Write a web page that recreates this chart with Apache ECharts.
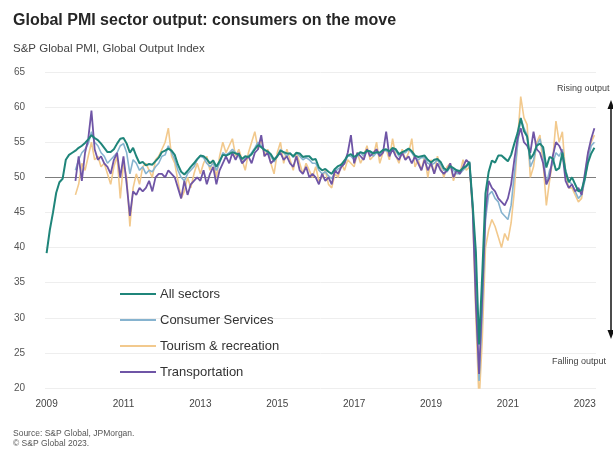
<!DOCTYPE html>
<html>
<head>
<meta charset="utf-8">
<script src="https://cdn.jsdelivr.net/npm/echarts@6/dist/echarts.min.js"></script>
<style>
html,body{margin:0;padding:0;background:#fff;}
#chart{width:613px;height:450px;}
</style>
</head>
<body>
<div id="chart"></div>
<script>
// Months Jan 2009 .. Apr 2023
const startYear = 2009, endYear = 2023, endMonth = 4;
const categories = [];
for (let y = startYear; y <= endYear; y++) {
  for (let m = 1; m <= 12; m++) {
    if (y === endYear && m > endMonth) break;
    categories.push(y + '-' + (m < 10 ? '0' + m : m));
  }
}
const xTickYears = ['2009','2011','2013','2015','2017','2019','2021','2023'];
const yTicks = { min: 20, max: 65, interval: 5 };

const allSectors = [
  39.2, 42.5, 45.0, 47.8, 49.3, 49.8, 52.5, 53.2, 53.5, 53.8, 54.2, 54.5,
  54.9, 55.4, 56.0, 55.6, 55.3, 54.8, 54.2, 53.6, 53.6, 54.0, 54.8, 55.5,
  55.6, 54.8, 53.5, 54.2, 53.0, 52.0, 52.2, 51.7, 51.9, 51.8, 52.3, 52.8,
  53.6, 53.8, 54.1, 53.8, 53.2, 51.8, 50.8, 50.4, 50.9, 51.5, 52.0, 52.6,
  53.1, 53.0, 52.6, 52.0, 52.4, 51.5, 52.3, 53.2, 53.1, 53.3, 53.6, 53.4,
  53.3, 52.6, 53.0, 52.9, 53.3, 54.0, 54.6, 54.3, 53.9, 53.7, 53.3, 52.5,
  53.0, 53.8, 53.6, 53.4, 53.4, 53.0, 53.5, 53.4, 52.9, 53.0, 53.0, 52.5,
  52.6, 51.4, 51.0, 51.2, 50.8, 50.5, 51.2, 51.6, 51.8, 52.4, 53.1, 53.3,
  52.9, 53.2, 53.6, 53.4, 53.8, 53.7, 53.4, 53.6, 53.5, 53.9, 54.0, 53.7,
  54.2, 54.0, 53.3, 53.6, 53.8, 54.1, 53.7, 53.1, 52.9, 53.0, 53.1, 52.5,
  52.1, 52.5, 52.6, 52.2, 51.3, 51.0, 51.6, 51.3, 51.0, 50.9, 51.3, 51.6,
  52.2, 46.1, 39.4, 26.2, 36.3, 47.7, 50.8, 52.4, 52.1, 53.1, 53.1, 52.7,
  52.3, 53.2, 54.8, 56.3, 58.4, 56.6, 55.8, 52.6, 53.3, 54.5, 54.8, 54.3,
  51.4, 52.9, 52.7, 51.0, 51.3, 53.5, 50.8, 49.3, 50.0, 49.0, 48.0, 48.2,
  49.8, 52.1, 53.4, 54.2
];

const consumerServices = [
  null, null, null, null, null, null, null, null, null, 51.0, 52.5, 53.5,
  54.0, 54.8, 56.5, 55.0, 54.5, 53.5, 53.0, 52.0, 52.5, 53.0, 53.5, 54.5,
  54.8, 53.5, 50.5, 52.5, 52.0, 51.0, 51.5, 50.5, 51.0, 50.8, 51.5, 52.0,
  53.0, 53.2, 54.5, 53.5, 52.5, 51.0, 50.0, 49.5, 50.5, 51.0, 51.5, 52.5,
  53.0, 52.8, 52.0, 51.5, 52.0, 51.0, 52.0, 53.5, 53.2, 53.5, 54.0, 53.5,
  53.0, 52.0, 52.8, 53.0, 53.5, 54.2, 55.0, 54.5, 54.0, 53.5, 53.0, 52.2,
  53.0, 54.0, 53.5, 53.0, 53.5, 52.8, 53.5, 53.0, 52.5, 52.8, 52.5, 52.0,
  52.0, 51.0, 50.5, 50.8, 50.2, 49.8, 50.8, 51.2, 51.5, 52.0, 53.0, 53.0,
  52.5, 53.0, 53.5, 53.0, 53.8, 53.5, 53.0, 53.5, 53.2, 53.8, 53.8, 53.5,
  54.0, 53.8, 53.0, 53.5, 53.5, 54.0, 53.5, 52.8, 52.5, 52.8, 52.8, 52.0,
  51.8, 52.0, 52.5, 51.8, 51.0, 50.8, 51.5, 51.0, 50.5, 50.5, 51.0, 51.5,
  52.0, 46.0, 34.0, 21.0, 31.0, 44.0, 47.5, 48.0, 47.0, 46.5, 45.0, 44.5,
  44.0, 46.0, 50.5, 54.5, 58.5, 57.0, 56.0, 51.5, 52.5, 54.5, 55.5, 53.5,
  49.0, 51.0, 52.0, 53.5, 53.0, 54.0, 51.0, 49.5, 49.0, 48.0, 47.0, 47.5,
  49.5, 52.5, 54.5, 55.0
];

const tourismRecreation = [
  null, null, null, null, null, null, null, null, null, 47.5, 49.0, 52.0,
  51.0, 53.0, 55.0, 52.5, 53.0, 51.5, 52.0, 50.5, 49.0, 51.5, 53.0, 47.0,
  52.0, 50.0, 43.0, 48.5, 50.5, 49.0, 51.5, 52.0, 51.0, 50.0, 52.5, 53.0,
  54.0, 55.0, 57.0, 53.0, 52.0, 49.5, 47.0, 48.0, 50.0, 48.5, 50.5, 52.0,
  50.5, 52.0, 53.0, 51.0, 52.5, 50.0, 53.0, 55.0, 53.5, 54.5, 55.5, 53.0,
  54.0, 52.5, 51.0, 53.5, 55.0, 56.5, 54.0, 55.5, 53.0, 54.0, 52.0, 50.5,
  53.5, 55.0, 52.0, 54.0, 52.5, 51.0, 53.5, 52.0, 50.5, 52.0, 51.0, 50.0,
  51.5, 49.5, 50.0, 51.0, 49.0, 48.5, 50.5, 50.0, 52.0, 51.0, 52.5, 52.0,
  51.5, 53.5, 52.0, 53.0, 54.5, 52.5, 53.0, 55.0, 52.0, 53.5, 54.0, 52.5,
  55.5, 53.0, 52.0, 54.0, 52.5, 53.5, 55.5, 51.5, 52.5, 51.0, 53.0, 50.0,
  52.5, 50.5, 53.0, 51.5, 50.0, 51.5, 52.0, 49.5, 51.0, 50.5, 52.5, 51.0,
  51.5, 45.0, 30.0, 18.0, 27.0, 40.0, 42.5, 44.0, 43.0, 41.5, 40.0, 42.0,
  41.0, 43.5, 48.0, 55.0, 61.5, 58.5, 57.5, 50.0, 51.5, 55.0, 56.0, 52.0,
  46.0, 49.5, 52.5, 58.0, 55.0, 56.5, 50.5, 48.5, 48.5, 47.5, 46.5, 47.0,
  50.0, 53.5, 55.0, 56.0
];

const transportation = [
  null, null, null, null, null, null, null, null, null, 49.5, 53.0, 49.5,
  53.5, 55.5, 59.5, 54.0, 52.5, 53.0, 52.0, 51.5, 50.5, 52.5, 53.5, 50.0,
  53.0, 49.0, 44.5, 48.0, 47.5, 48.5, 48.0, 48.5, 49.5, 48.0, 50.0, 50.5,
  50.5, 50.0, 51.0, 50.5, 50.0, 48.5, 47.0, 49.5, 47.5, 49.0, 49.5, 50.0,
  49.5, 51.0, 49.0, 50.5, 51.5, 49.0, 51.0, 52.0, 53.0, 52.0, 53.5, 52.5,
  53.5, 52.0, 52.5, 53.0, 52.0, 53.5, 54.0, 56.0, 53.0, 53.5, 52.0, 52.5,
  53.0, 53.5, 52.5, 53.0, 52.0, 51.5, 53.0, 51.0, 50.5, 51.5, 50.0, 50.5,
  50.0, 49.0, 50.5, 49.5, 50.0, 49.0, 51.0, 50.5, 51.5, 52.0, 53.5, 56.0,
  52.0, 53.5, 53.0, 52.5, 54.0, 53.0, 53.5, 54.0, 53.0, 53.5, 56.5, 53.0,
  54.0, 53.0, 52.5, 53.5, 52.5, 53.0, 52.0, 53.0, 52.0, 51.0, 52.5, 51.0,
  52.0, 50.5, 52.0, 51.0, 50.5, 51.0, 52.0, 50.0, 51.0, 50.5, 51.5, 52.5,
  52.0, 45.5, 32.0, 22.0, 33.0, 45.0, 49.5, 48.5, 48.0, 47.0, 46.5, 46.0,
  47.0, 49.0, 52.5, 55.5, 57.0, 55.0, 54.5, 53.5, 56.5, 54.0, 53.5, 52.0,
  49.0, 50.0, 53.0, 55.0, 54.5, 53.5, 49.5, 48.5, 49.0, 48.0, 48.5, 47.5,
  50.5, 53.5, 55.5, 57.0
];

const seriesNames = ['All sectors', 'Consumer Services', 'Tourism & recreation', 'Transportation'];
const seriesColors = ['#1f857a', '#86b3cf', '#f2c98d', '#6f55a6'];
const seriesData = [allSectors, consumerServices, tourismRecreation, transportation];
const seriesZ = [4, 2, 1, 3];
const seriesWidth = [2, 1.6, 1.6, 1.8];

const FONT = '"Liberation Sans", Arial, sans-serif';
const chart = echarts.init(document.getElementById('chart'), null, { renderer: 'canvas' });

const series = seriesNames.map((name, i) => {
  const s = {
    name: name,
    type: 'line',
    data: seriesData[i],
    showSymbol: false,
    symbol: 'none',
    z: seriesZ[i],
    connectNulls: false,
    clip: true,
    lineStyle: { color: seriesColors[i], width: seriesWidth[i] },
    itemStyle: { color: seriesColors[i] },
    emphasis: { disabled: true },
    animation: false
  };
  if (i === 0) {
    s.markLine = {
      silent: true,
      symbol: 'none',
      label: { show: false },
      lineStyle: { color: '#7d7d7d', width: 1, type: 'solid' },
      data: [{ yAxis: 50 }],
      animation: false,
      z: 0
    };
  }
  return s;
});

const option = {
  backgroundColor: '#ffffff',
  animation: false,
  textStyle: { fontFamily: FONT },
  title: [
    {
      text: 'Global PMI sector output: consumers on the move',
      left: 13, top: 13, padding: 0,
      textStyle: { fontFamily: FONT, fontSize: 16, fontWeight: 'bold', color: '#262626' }
    },
    {
      text: 'S&P Global PMI, Global Output Index',
      left: 13, top: 43, padding: 0,
      textStyle: { fontFamily: FONT, fontSize: 11.5, fontWeight: 'normal', color: '#444' }
    },
    {
      text: 'Source: S&P Global, JPMorgan.\n© S&P Global 2023.',
      left: 13, top: 429, padding: 0,
      textStyle: { fontFamily: FONT, fontSize: 8.5, lineHeight: 10, fontWeight: 'normal', color: '#555' }
    },
    {
      text: 'Rising output',
      left: 557, top: 84, padding: 0,
      textStyle: { fontFamily: FONT, fontSize: 9, fontWeight: 'normal', color: '#444' }
    },
    {
      text: 'Falling output',
      left: 552, top: 357, padding: 0,
      textStyle: { fontFamily: FONT, fontSize: 9, fontWeight: 'normal', color: '#444' }
    }
  ],
  legend: {
    orient: 'vertical',
    left: 120, top: 286, padding: 0,
    icon: 'rect',
    itemWidth: 36, itemHeight: 2,
    itemGap: 10,
    data: seriesNames,
    textStyle: { fontFamily: FONT, fontSize: 13, color: '#333', lineHeight: 16, padding: [0, 0, 0, -1] },
    selectedMode: false
  },
  grid: { left: 45, right: 17, top: 72, bottom: 62, containLabel: false },
  xAxis: {
    type: 'category',
    data: categories,
    boundaryGap: true,
    axisLine: { show: false },
    axisTick: { show: false },
    axisLabel: {
      interval: function (idx, val) { return val.slice(5) === '01' && xTickYears.indexOf(val.slice(0, 4)) >= 0; },
      formatter: function (val) { return val.slice(0, 4); },
      fontFamily: FONT, fontSize: 10, color: '#444', margin: 11
    },
    splitLine: { show: false }
  },
  yAxis: {
    type: 'value',
    min: yTicks.min, max: yTicks.max, interval: yTicks.interval,
    axisLine: { show: false },
    axisTick: { show: false },
    axisLabel: { fontFamily: FONT, fontSize: 10, color: '#555', margin: 20 },
    splitLine: { show: true, lineStyle: { color: '#eeeeee', width: 1 } }
  },
  series: series,
  graphic: [
    { type: 'line', shape: { x1: 611, y1: 106, x2: 611, y2: 333 }, style: { stroke: '#111', lineWidth: 1.5 }, silent: true },
    { type: 'polygon', shape: { points: [[607.5, 109], [611, 100], [614.5, 109]] }, style: { fill: '#111' }, silent: true },
    { type: 'polygon', shape: { points: [[607.5, 330], [611, 339], [614.5, 330]] }, style: { fill: '#111' }, silent: true }
  ]
};
chart.setOption(option);
</script>
</body>
</html>
